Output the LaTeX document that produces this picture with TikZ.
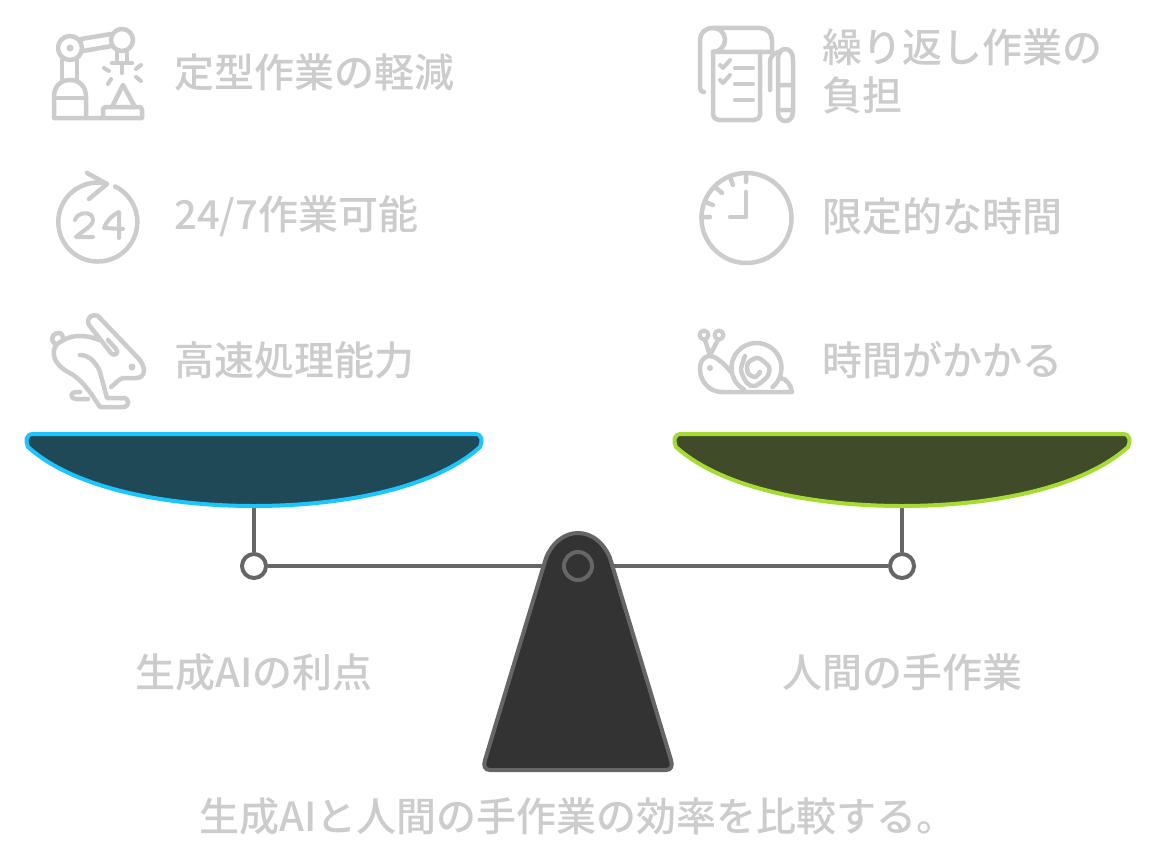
\documentclass[tikz,border=0pt]{standalone}
\usepackage{fontspec}
\setmainfont{Noto Sans CJK JP Medium}
\definecolor{paleink}{HTML}{CCCCCC}
\definecolor{beamgray}{HTML}{666666}
\definecolor{basedark}{HTML}{333333}
\definecolor{bluefill}{HTML}{204958}
\definecolor{blueline}{HTML}{1BC5FF}
\definecolor{greenfill}{HTML}{404B2A}
\definecolor{greenline}{HTML}{A6DB33}
\tikzset{
	lbl/.style={inner sep=0pt,text=paleink,font=\fontsize{40}{48}\selectfont,align=left},
	glyph/.style={draw=paleink,line width=4.5,line cap=round,line join=round},
	joint/.style={circle,draw=beamgray,fill=white,line width=4,inner sep=0pt,minimum size=24},
	beam/.style={draw=beamgray,line width=4}
}
\begin{document}
\begin{tikzpicture}[x=1pt,y=-1pt]
	\useasboundingbox (0,0) rectangle (1156,867);
	\fill[white] (0,0) rectangle (1156,867);
	% left column
	\node[lbl,anchor=west] (routine) at (174,72) {定型作業の軽減};
	\node[lbl,anchor=west] (allday) at (174,216) {24/7作業可能};
	\node[lbl,anchor=west] (fast) at (174,360) {高速処理能力};
	% right column
	\node[lbl,anchor=west] (repeat) at (822,71.5) {繰り返し作業の\\負担};
	\node[lbl,anchor=west] (limited) at (822,216) {限定的な時間};
	\node[lbl,anchor=west] (slow) at (822,360) {時間がかかる};
	% captions
	\node[lbl] (aicap) at (254,672) {生成AIの利点};
	\node[lbl] (humancap) at (902,672) {人間の手作業};
	\node[lbl] (title) at (578,816.5) {生成AIと人間の手作業の効率を比較する。};

	% robot arm
	\draw[glyph] (54,118) -- (54,97) .. controls (54,87) and (60,80) .. (70,80) .. controls (80,80) and (86,87) .. (86,97) -- (86,118) -- cycle;
	\draw[glyph] (54,98) -- (86,98) (62,80) -- (62,60) (77,80) -- (77,60);
	\draw[glyph] (70,48) circle (12);
	\fill[paleink] (70,48) circle (3.5);
	\draw[glyph] (81,39) -- (111,34) (83,51) -- (112,46);
	\draw[glyph] (122,40) circle (11);
	\draw[glyph] (117,52) -- (117,62) (127,52) -- (127,62) (112,63) -- (132,63) (122,63) -- (122,73);
	\draw[glyph,line width=4] (104,68) -- (109,71) (141,65) -- (136,69) (111,79) -- (108,84) (136,77) -- (141,81);
	\draw[glyph] (112,107) -- (123,85) -- (135,107);
	\draw[glyph] (86,118) -- (142,118) -- (142,110) .. controls (142,108) and (141,107) .. (139,107) -- (106,107) .. controls (104,107) and (103,108) .. (103,110) -- (103,118);

	% day-and-night arrow
	\draw[glyph] (106,183.4) arc[start angle=-78,end angle=-424,radius=39.5];
	\draw[glyph] (87,173) -- (107,184) -- (89,199);
	\draw[glyph,line width=4] (75,220) .. controls (77,212) and (93,210) .. (93,220) .. controls (93,226) and (81,232) .. (76,237) -- (93,237);
	\draw[glyph,line width=4] (119,238) -- (119,212) .. controls (112,215) and (106,222) .. (104,228) -- (123,229);

	% rabbit
	\draw[glyph] (98,316) -- (139,359) .. controls (146,367) and (146,378) .. (136,378) -- (123,378) .. controls (119,379) and (115,384) .. (111,387);
	\draw[glyph] (98,316) .. controls (93,313) and (85,318) .. (89,325) -- (111,353) .. controls (114,357) and (120,353) .. (116,349) -- (108,340);
	\draw[glyph] (99,340) .. controls (90,336) and (74,333) .. (62,341);
	\draw[glyph] (54,343) .. controls (49,337) and (55,332) .. (60,333) .. controls (62,334) and (63,336) .. (63,338);
	\draw[glyph] (62,341) .. controls (50,346) and (50,362) .. (68,372) .. controls (82,379) and (90,392) .. (100,407) -- (123,407) .. controls (130,407) and (130,398) .. (123,398) -- (107,398) -- (100,372) .. controls (97,364) and (90,355) .. (80,355);
	\draw[glyph] (80,392) -- (76,392) .. controls (70,392) and (70,399) .. (76,399) -- (88,399);
	\fill[paleink] (132,367) circle (3.5);

	% note and pen
	\draw[glyph] (713,52) -- (713,115) .. controls (713,118) and (716,120) .. (719,120) -- (754,120) .. controls (757,120) and (760,118) .. (760,115) -- (760,52);
	\draw[glyph] (713,52) -- (772,52) -- (772,40) .. controls (772,33) and (767,28) .. (760,28) -- (713,28) .. controls (705,28) and (700,33) .. (700,40) -- (700,88) .. controls (700,91) and (702,92) .. (704,92);
	\draw[glyph] (713,28) .. controls (720,28) and (725,33) .. (725,40) .. controls (725,46) and (720,52) .. (713,52);
	\draw[glyph,line width=4] (720,65) -- (723,68) -- (730,60) (720,80) -- (723,83) -- (730,75);
	\draw[glyph,line width=4] (735,68) -- (753,68) (735,84) -- (753,84) (735,100) -- (753,100);
	\draw[glyph] (770,90) -- (770,62) .. controls (770,57) and (773,54) .. (778,52);
	\draw[glyph] (778,60) .. controls (778,53) and (781,49) .. (785,49) .. controls (790,49) and (793,53) .. (793,60) -- (793,112) .. controls (793,124) and (778,124) .. (778,112) -- cycle (778,85) -- (793,85) (778,110) -- (793,110);

	% clock
	\draw[glyph] (746.5,218) circle (45);
	\draw[glyph] (746,173) -- (746,182) (730,177) -- (733,185) (715,187) -- (722,193) (705,202) -- (713,205) (701,217) -- (710,217);
	\draw[glyph] (746,192) -- (746,217) -- (730,217);

	% snail
	\draw[glyph] (722,392) -- (792,392) .. controls (791,386) and (787,378) .. (780,378);
	\draw[glyph] (744,389.6) arc[start angle=120,end angle=410,radius=25];
	\draw[glyph] plot[smooth] coordinates {(745,356) (741,370) (747,383) (755,386) (767,377) (769,367) (758,358) (748,363) (748,373) (755,377) (760,372)};
	\draw[glyph] (731,372) .. controls (727,367) and (723,363) .. (720,361) .. controls (716,357) and (712,356) .. (708,356) .. controls (702,358) and (700,363) .. (700,369) .. controls (700,382) and (710,392) .. (722,392);
	\draw[glyph] (705,340) -- (710,355) (718,340) -- (710,355);
	\draw[glyph,line width=4] (704,335) circle (4.5) (719,335) circle (4.5);
	\fill[paleink] (710,368) circle (3);

	% balance
	\node[joint] (leftjoint) at (254,566) {};
	\node[joint] (rightjoint) at (902,566) {};
	\coordinate (leftpan) at (254,505);
	\coordinate (rightpan) at (902,505);
	\draw[beam] (leftpan) -- (leftjoint);
	\draw[beam] (rightpan) -- (rightjoint);
	\draw[beam] (leftjoint) -- (rightjoint);
	\draw[draw=blueline,fill=bluefill,line width=4] (33,434) -- (475,434) .. controls (482,434) and (483,441) .. (480,447) .. controls (432,490) and (338,506) .. (254,506) .. controls (170,506) and (76,490) .. (28,447) .. controls (25,441) and (26,434) .. (33,434) -- cycle;
	\draw[draw=greenline,fill=greenfill,line width=4] (681,434) -- (1123,434) .. controls (1130,434) and (1131,441) .. (1128,447) .. controls (1080,490) and (986,506) .. (902,506) .. controls (818,506) and (724,490) .. (676,447) .. controls (673,441) and (674,434) .. (681,434) -- cycle;
	\draw[draw=beamgray,fill=basedark,line width=4] (546,558) .. controls (552,543) and (564,533) .. (578,533) .. controls (592,533) and (604,543) .. (610,558) -- (671,760) .. controls (673,766) and (671,770) .. (666,770) -- (490,770) .. controls (485,770) and (483,766) .. (485,760) -- cycle;
	\node[circle,draw=beamgray,line width=4,inner sep=0pt,minimum size=28] (pivot) at (578,566) {};
\end{tikzpicture}
\end{document}
